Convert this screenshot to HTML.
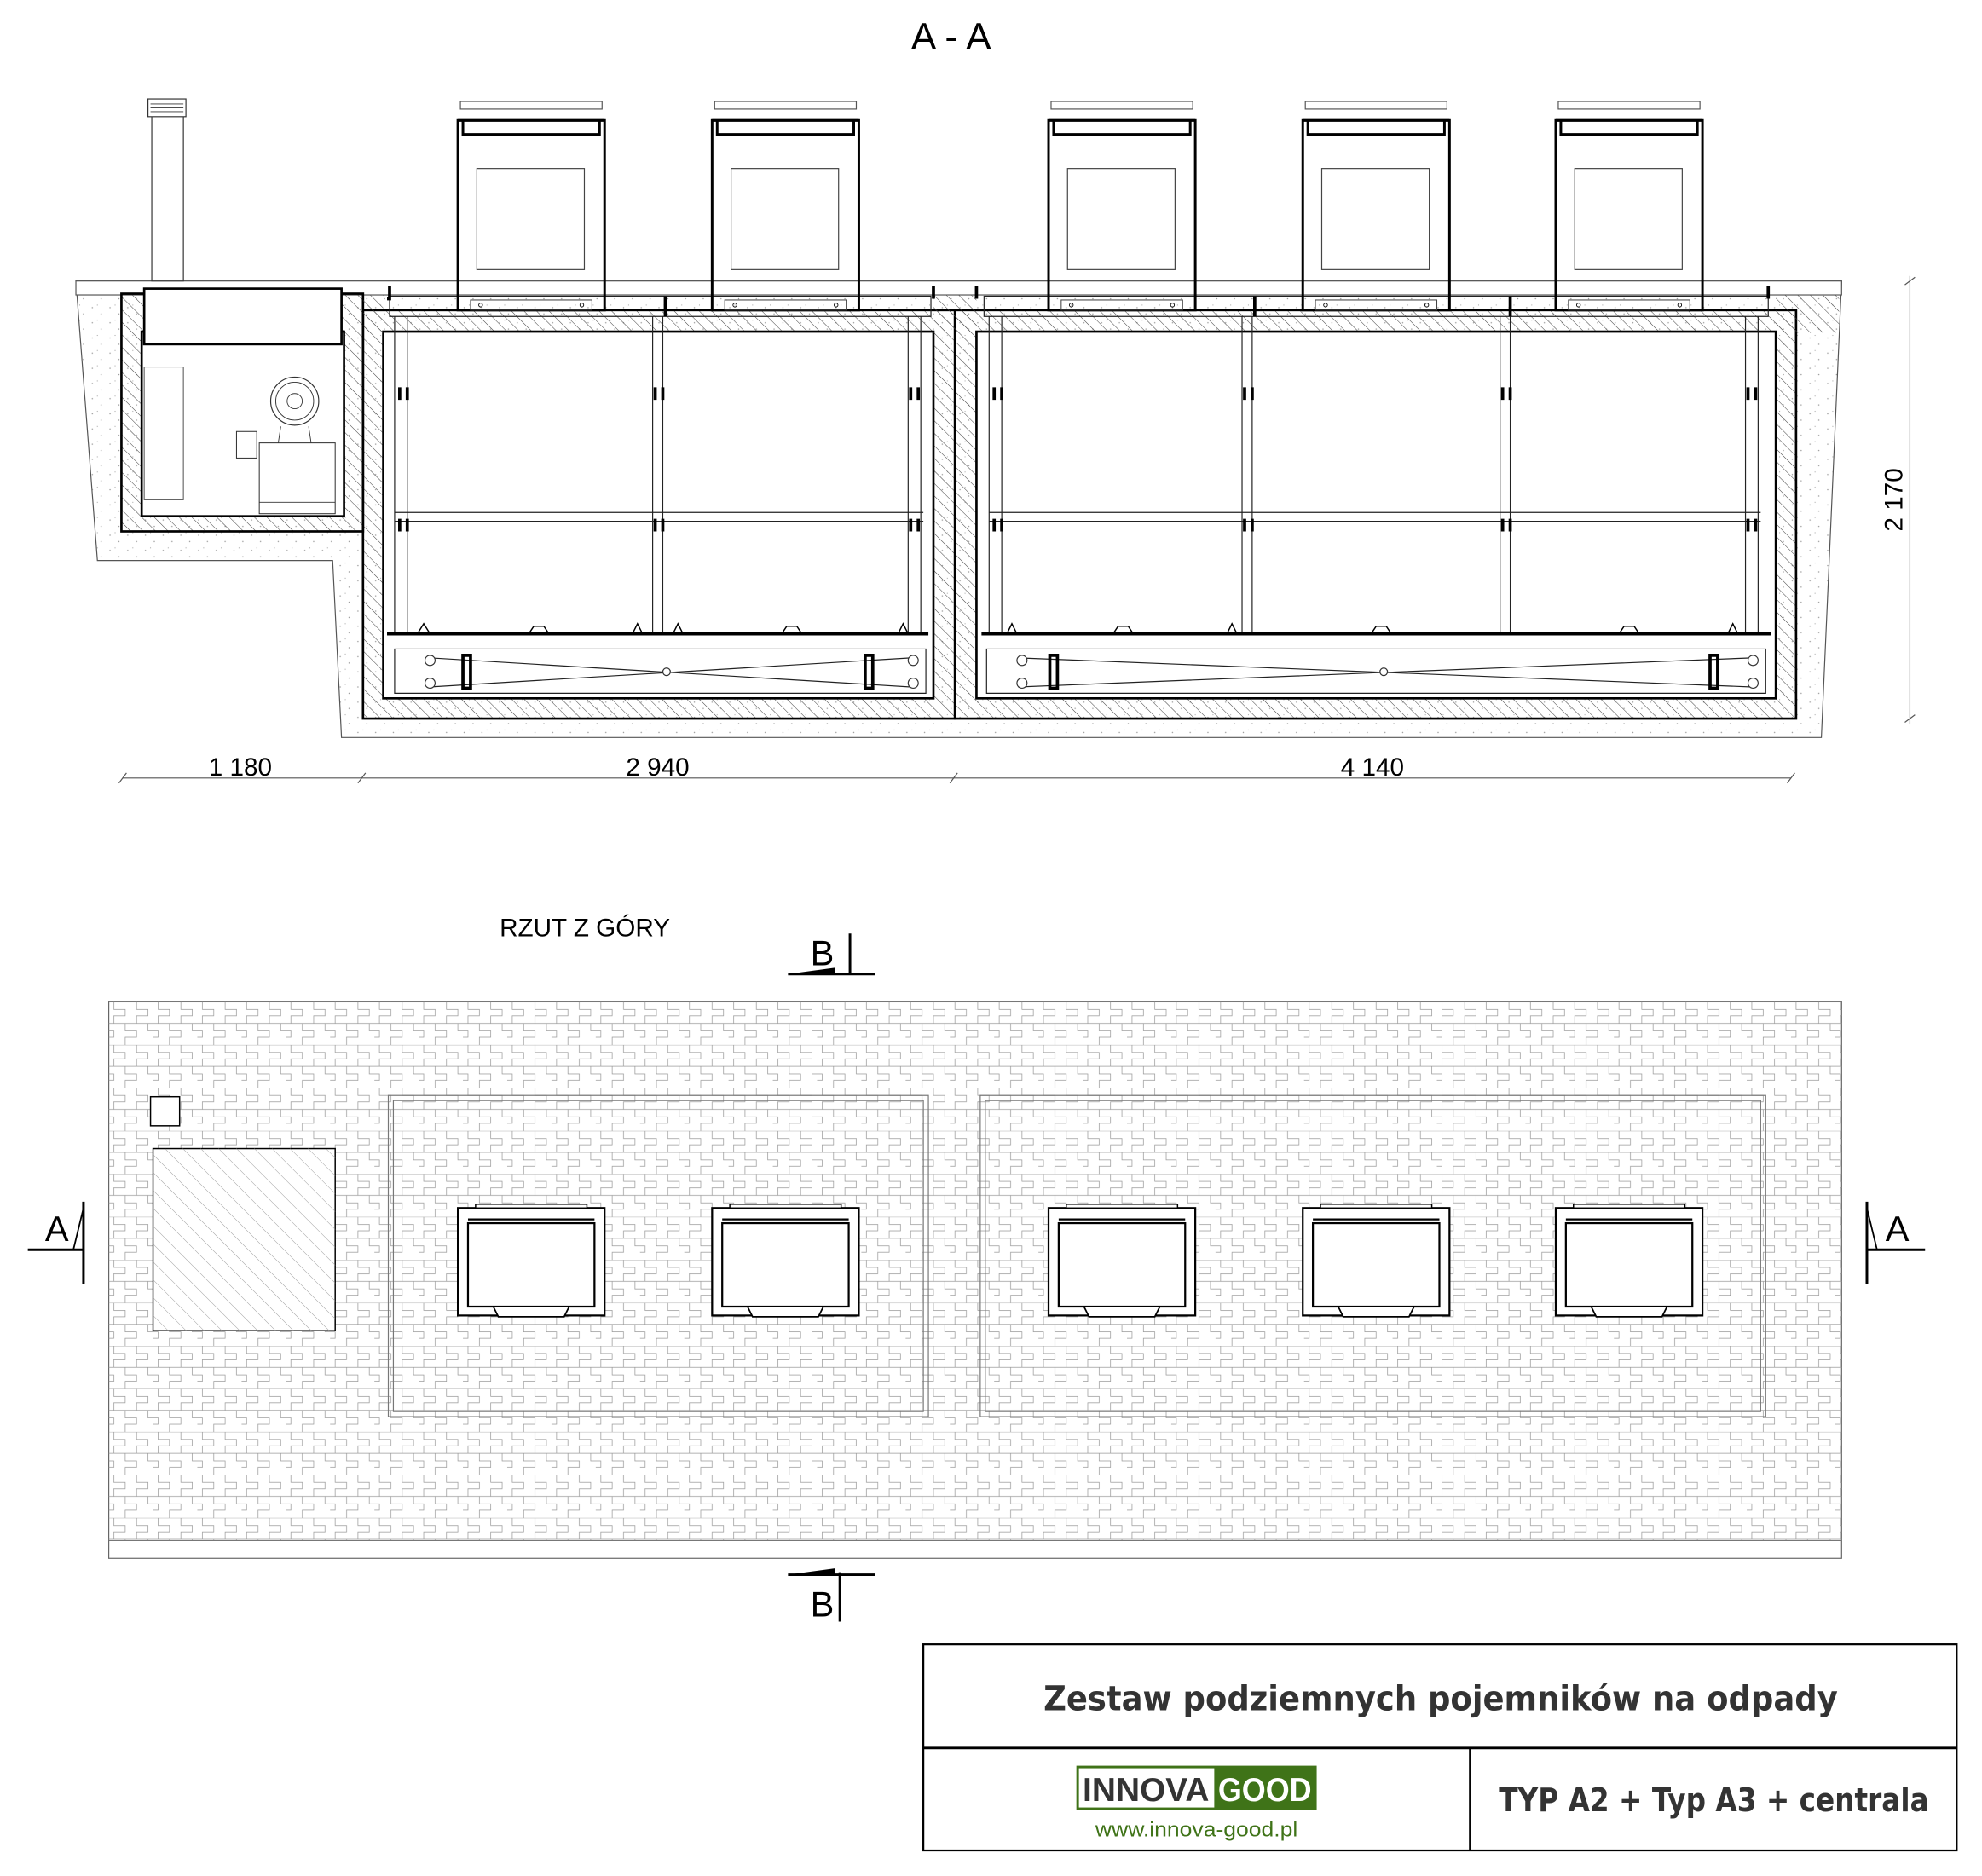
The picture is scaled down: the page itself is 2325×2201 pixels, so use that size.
<!DOCTYPE html>
<html><head><meta charset="utf-8"><style>html,body{margin:0;padding:0;background:#fff}svg{display:block}</style></head>
<body>
<svg width="2325" height="2201" viewBox="0 0 1567 1483" xmlns="http://www.w3.org/2000/svg" font-family="Liberation Sans, sans-serif">
<defs>
<pattern id="hatch" width="7" height="7" patternUnits="userSpaceOnUse" patternTransform="rotate(-45)"><line x1="0" y1="0" x2="0" y2="7" stroke="#444" stroke-width="0.7"/></pattern>
<pattern id="hatch2" width="10" height="10" patternUnits="userSpaceOnUse" patternTransform="rotate(-45)"><line x1="0" y1="0" x2="0" y2="10" stroke="#999" stroke-width="0.6"/></pattern>
<pattern id="soil" width="14" height="12" patternUnits="userSpaceOnUse"><circle cx="3" cy="3" r="0.5" fill="#999"/><circle cx="10" cy="8" r="0.5" fill="#999"/><circle cx="7" cy="1" r="0.4" fill="#aaa"/></pattern>
<pattern id="pave" x="86" y="792" width="35" height="34" patternUnits="userSpaceOnUse">
<path d="M0 0H35M0 17H35M4 0V6H13V11H4V17M22 0V6H31V11H22V17M13 17V23H22V28H13V34M31 17V23H35M0 23H4V28H0" fill="none" stroke="#999" stroke-width="0.5"/>
</pattern>
<g id="bin">
<rect x="2" y="0" width="112" height="6" fill="#fff" stroke="#555" stroke-width="0.8"/>
<path d="M0 15H116M4 15V26H112V15" fill="none" stroke="#000" stroke-width="2"/>
<rect x="0" y="15" width="116" height="150" fill="none" stroke="#000" stroke-width="2"/>
<rect x="15" y="53" width="85" height="80" fill="none" stroke="#444" stroke-width="0.8"/>
<rect x="10" y="157" width="96" height="8" fill="none" stroke="#444" stroke-width="0.7"/>
<circle cx="18" cy="161" r="1.5" fill="none" stroke="#000" stroke-width="0.6"/><circle cx="98" cy="161" r="1.5" fill="none" stroke="#000" stroke-width="0.6"/>
</g>
<g id="lid">
<rect x="0" y="3" width="116" height="85" fill="#fff" stroke="#000" stroke-width="1.5"/>
<rect x="8" y="15" width="100" height="66" fill="#fff" stroke="#000" stroke-width="1.5"/>
<line x1="8" y1="12" x2="108" y2="12" stroke="#000" stroke-width="1.5"/>
<rect x="14" y="0" width="88" height="3" fill="#fff" stroke="#000" stroke-width="1"/>
<path d="M28 81L32 89H84L88 81" fill="#fff" stroke="#000" stroke-width="1.2"/>
</g>
</defs>

<text x="752" y="39" font-size="30" text-anchor="middle">A - A</text>

<polygon points="60,222 77,443 263,443 270,583 1420,583 1440,583 1456,222" fill="url(#soil)" stroke="#555" stroke-width="0.8"/>
<rect x="60" y="222" width="1396" height="11" fill="#fff" stroke="#555" stroke-width="0.8"/>
<rect x="96" y="232" width="191" height="188" fill="url(#hatch)" stroke="#000" stroke-width="1.8"/>
<rect x="112" y="262" width="160" height="146" fill="#fff" stroke="#000" stroke-width="1.8"/>
<rect x="114" y="228" width="156" height="44" fill="#fff" stroke="#000" stroke-width="1.8"/>
<rect x="120" y="80" width="25" height="142" fill="#fff" stroke="#333" stroke-width="0.8"/>
<rect x="117" y="78" width="30" height="14" fill="#fff" stroke="#333" stroke-width="0.8"/>
<path d="M119 82H145M119 85H145M119 88H145" stroke="#333" stroke-width="0.6"/>
<rect x="114" y="290" width="31" height="105" fill="none" stroke="#555" stroke-width="0.7"/>
<circle cx="233" cy="317" r="19" fill="none" stroke="#333" stroke-width="0.8"/><circle cx="233" cy="317" r="15" fill="none" stroke="#333" stroke-width="0.6"/><circle cx="233" cy="317" r="6" fill="none" stroke="#333" stroke-width="0.6"/>
<path d="M222 337L220 350M244 337L246 350" stroke="#333" stroke-width="0.6"/>
<rect x="187" y="341" width="16" height="21" fill="none" stroke="#333" stroke-width="0.7"/>
<rect x="205" y="350" width="60" height="56" fill="none" stroke="#333" stroke-width="0.7"/>
<line x1="205" y1="397" x2="265" y2="397" stroke="#333" stroke-width="0.6"/>

<rect x="287" y="245" width="468" height="323" fill="url(#hatch)" stroke="#000" stroke-width="1.8"/>
<rect x="755" y="245" width="665" height="323" fill="url(#hatch)" stroke="#000" stroke-width="1.8"/>
<rect x="303" y="262" width="435" height="290" fill="#fff" stroke="#000" stroke-width="1.8"/>
<rect x="772" y="262" width="632" height="290" fill="#fff" stroke="#000" stroke-width="1.8"/>
<rect x="287" y="233" width="16" height="30" fill="url(#hatch)"/>
<rect x="738" y="233" width="34" height="30" fill="url(#hatch)"/>
<rect x="1404" y="233" width="50" height="30" fill="url(#hatch)"/>
<g stroke="#222" stroke-width="0.8" fill="none">
<path d="M308 234H736V250H308ZM778 234H1398V250H778Z"/>
<path d="M312 405H730M312 412H730M782 405H1392M782 412H1392"/>
<path d="M312 250V500M322 250V500M516 250V500M524 250V500M718 250V500M728 250V500"/>
<path d="M782 250V500M792 250V500M982 250V500M990 250V500M1186 250V500M1194 250V500M1380 250V500M1390 250V500"/>
<path d="M312 513H732V548H312ZM780 513H1396V548H780Z"/>
<path d="M340 520L720 543M340 543L720 520M805 520L1385 543M805 543L1385 520"/>
</g>
<g stroke="#000" stroke-width="2.5" fill="none">
<path d="M306 501H734M776 501H1400"/>
<path d="M308 226V236H306M738 226V236M772 226V236M1398 226V236"/>
<path d="M526 234V250M992 234V250M1194 234V250"/>
<path d="M366 518V544H372V518ZM684 518V544H690V518ZM830 518V544H836V518ZM1352 518V544H1358V518Z"/>
<path d="M316 306V316M322 306V316M518 306V316M524 306V316M720 306V316M726 306V316M786 306V316M792 306V316M984 306V316M990 306V316M1188 306V316M1194 306V316M1382 306V316M1388 306V316"/>
<path d="M316 410V420M322 410V420M518 410V420M524 410V420M720 410V420M726 410V420M786 410V420M792 410V420M984 410V420M990 410V420M1188 410V420M1194 410V420M1382 410V420M1388 410V420"/>
</g>
<g fill="#fff" stroke="#333" stroke-width="0.8">
<circle cx="340" cy="522" r="4"/><circle cx="340" cy="540" r="4"/><circle cx="722" cy="522" r="4"/><circle cx="722" cy="540" r="4"/><circle cx="527" cy="531" r="3"/>
<circle cx="808" cy="522" r="4"/><circle cx="808" cy="540" r="4"/><circle cx="1386" cy="522" r="4"/><circle cx="1386" cy="540" r="4"/><circle cx="1094" cy="531" r="3"/>
</g>
<g fill="none" stroke="#000" stroke-width="1">
<path d="M330 501L335 493L340 501M418 501L422 495H430L434 501M500 501L504 493L508 501M532 501L536 493L540 501M618 501L622 495H630L634 501M710 501L714 493L718 501"/>
<path d="M796 501L800 493L804 501M880 501L884 495H892L896 501M970 501L974 493L978 501M1084 501L1088 495H1096L1100 501M1280 501L1284 495H1292L1296 501M1366 501L1370 493L1374 501"/>
</g>
<use href="#bin" x="362" y="80"/>
<use href="#bin" x="563" y="80"/>
<use href="#bin" x="829" y="80"/>
<use href="#bin" x="1030" y="80"/>
<use href="#bin" x="1230" y="80"/>

<g stroke="#555" stroke-width="0.8">
<line x1="97" y1="615" x2="1416" y2="615"/>
<path d="M94 619L100 611M283 619L289 611M751 619L757 611M1413 619L1419 611"/>
<line x1="1510" y1="218" x2="1510" y2="572"/>
<path d="M1506 225L1514 219M1506 571L1514 565"/>
</g>
<g font-size="20" text-anchor="middle">
<text x="190" y="613">1 180</text>
<text x="520" y="613">2 940</text>
<text x="1085" y="613">4 140</text>
<text x="1504" y="395" transform="rotate(-90 1504 395)">2 170</text>
</g>

<text x="395" y="740" font-size="20">RZUT Z GÓRY</text>
<rect x="86" y="792" width="1370" height="440" fill="#fff" stroke="#666" stroke-width="0.8"/>
<rect x="86" y="792" width="1370" height="426" fill="url(#pave)"/>
<line x1="86" y1="1218" x2="1456" y2="1218" stroke="#777" stroke-width="0.6"/>
<g fill="none" stroke="#777" stroke-width="0.8">
<rect x="307" y="866" width="427" height="254"/><rect x="311" y="870" width="419" height="246"/>
<rect x="775" y="866" width="621" height="254"/><rect x="779" y="870" width="613" height="246"/>
</g>
<rect x="119" y="867" width="23" height="23" fill="#fff" stroke="#000" stroke-width="1"/>
<rect x="121" y="908" width="144" height="144" fill="#fff" stroke="#000" stroke-width="1"/>
<rect x="121" y="908" width="144" height="144" fill="url(#hatch2)"/>
<use href="#lid" x="362" y="952"/>
<use href="#lid" x="563" y="952"/>
<use href="#lid" x="829" y="952"/>
<use href="#lid" x="1030" y="952"/>
<use href="#lid" x="1230" y="952"/>

<g stroke="#000" stroke-width="2" fill="none">
<path d="M66 950V1015M22 988H66"/><path d="M66 955L58 988" stroke-width="1.2"/>
<path d="M1476 950V1015M1476 988H1522"/><path d="M1476 955L1484 988" stroke-width="1.2"/>
<path d="M672 738V770M623 770H692"/>
<path d="M664 1243V1282M623 1245H692"/>
</g>
<path d="M623 770L660 765L660 770Z" fill="#000"/>
<path d="M623 1245L660 1240L660 1245Z" fill="#000"/>
<g font-size="28" text-anchor="middle">
<text x="45" y="981">A</text><text x="1500" y="981">A</text>
<text x="650" y="763">B</text><text x="650" y="1278">B</text>
</g>

<rect x="730" y="1300" width="817" height="163" fill="none" stroke="#000" stroke-width="1.5"/>
<line x1="730" y1="1382" x2="1547" y2="1382" stroke="#000" stroke-width="2"/>
<line x1="1162" y1="1382" x2="1162" y2="1463" stroke="#000" stroke-width="1.2"/>
<text x="825" y="1352" font-size="27" font-weight="bold" fill="#333" textLength="628" lengthAdjust="spacingAndGlyphs" font-family="DejaVu Sans, sans-serif">Zestaw podziemnych pojemników na odpady</text>
<rect x="851" y="1396" width="190" height="35" fill="#3f7318"/>
<rect x="853" y="1398" width="107" height="31" fill="#fff"/>
<text x="856" y="1424" font-size="26" font-weight="bold" fill="#333" textLength="100" lengthAdjust="spacingAndGlyphs">INNOVA</text>
<text x="963" y="1424" font-size="26" font-weight="bold" fill="#fff" textLength="74" lengthAdjust="spacingAndGlyphs">GOOD</text>
<text x="866" y="1452" font-size="16" fill="#3f7318" textLength="160" lengthAdjust="spacingAndGlyphs">www.innova-good.pl</text>
<text x="1185" y="1432" font-size="26" font-weight="bold" fill="#333" textLength="340" lengthAdjust="spacingAndGlyphs" font-family="DejaVu Sans, sans-serif">TYP A2 + Typ A3  + centrala</text>
</svg>
</body></html>
